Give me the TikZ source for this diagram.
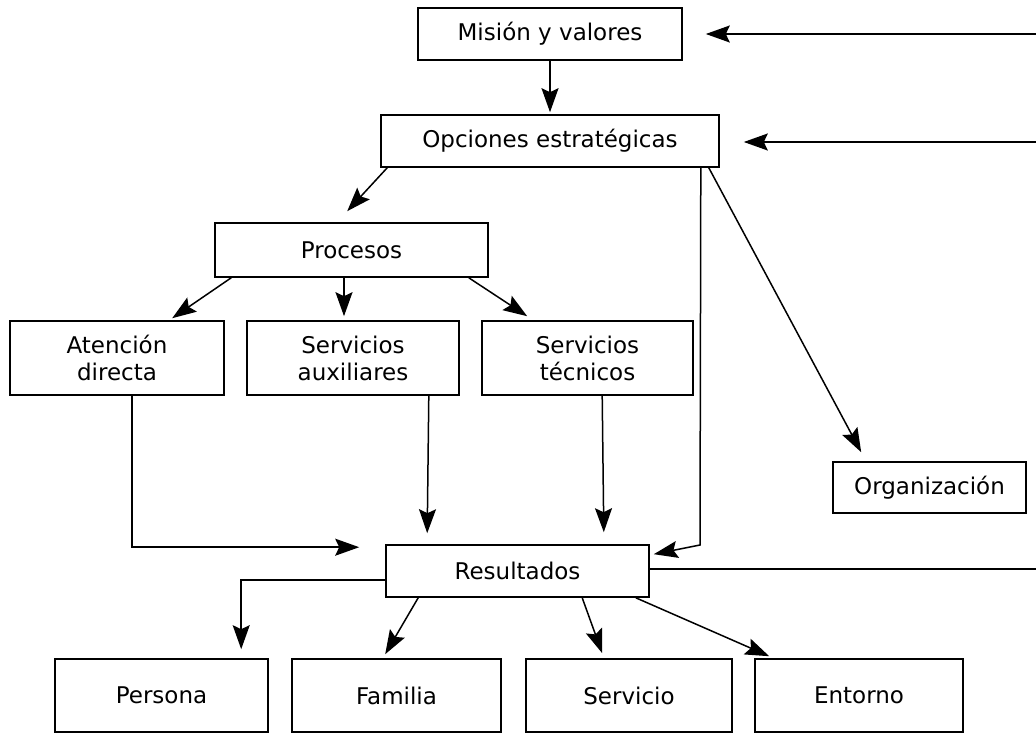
\documentclass[tikz,border=0pt]{standalone}
\usepackage{fontspec}
\setmainfont{DejaVu Sans}
\usetikzlibrary{arrows.meta,calc}
\begin{document}
\begin{tikzpicture}[x=1pt,y=-1pt,
  box/.style={draw, line width=1.6pt, rectangle, inner sep=0pt, align=center, font=\fontsize{23}{27}\selectfont},
  arr/.style={line width=1.5pt, -{Stealth[length=24pt,width=17pt,inset=4pt]}},
  ln/.style={line width=1.5pt}]
\useasboundingbox (0,0) rectangle (1036,733);
% nodes
\node[box, minimum width=264, minimum height=52] (mis) at (550,34) {Misión y valores};
\node[box, minimum width=338, minimum height=52] (opc) at (550,141) {Opciones estratégicas};
\node[box, minimum width=273, minimum height=54] (pro) at (351.5,250) {Procesos};
\node[box, minimum width=214, minimum height=74] (ate) at (117,358) {Atención\\directa};
\node[box, minimum width=212, minimum height=74] (aux) at (353,358) {Servicios\\auxiliares};
\node[box, minimum width=211, minimum height=74] (tec) at (587.5,358) {Servicios\\técnicos};
\node[box, minimum width=193, minimum height=51] (org) at (929.5,487.5) {Organización};
\node[box, minimum width=263, minimum height=52] (res) at (517.5,571) {Resultados};
\node[box, minimum width=213, minimum height=73] (per) at (161.5,695.5) {Persona};
\node[box, minimum width=209, minimum height=73] (fam) at (396.5,695.5) {Familia};
\node[box, minimum width=206, minimum height=73] (ser) at (629,695.5) {Servicio};
\node[box, minimum width=208, minimum height=73] (ent) at (859,695.5) {Entorno};
% free ends
\coordinate (inM) at (1036,34);
\coordinate (inO) at (1036,142);
\coordinate (outR) at (1036,569);
\coordinate (bend) at (700,545);
% connectors
\draw[arr] (inM) -- ([xshift=23]mis.east);
\draw[arr] (inO) -- ([xshift=24,yshift=-1]opc.east);
\draw[arr] (mis.south) -- ([yshift=2]opc.north);
\draw[arr] ([xshift=7]opc.south west) -- ([xshift=133,yshift=11]pro.north west);
\draw[arr] ([xshift=17]pro.south west) -- ([xshift=163,yshift=2]ate.north west);
\draw[arr] ([xshift=-7.5]pro.south) -- ([xshift=-9,yshift=4]aux.north);
\draw[arr] ([xshift=-20]pro.south east) -- ([xshift=46,yshift=4]tec.north west);
\draw[arr] ([xshift=123]ate.south west) |- ([xshift=-26,yshift=-3]res.north west);
\draw[arr] ([xshift=-31]aux.south east) -- ([xshift=42,yshift=11]res.north west);
\draw[arr] ([xshift=121]tec.south west) -- ([xshift=-46,yshift=12]res.north east);
\draw[arr] ([xshift=-19]opc.south east) -- (bend) -- ([xshift=4,yshift=-10]res.north east);
\draw[arr] ([xshift=-11]opc.south east) -- ([xshift=29,yshift=9]org.north west);
\draw[ln] ([yshift=2]res.east) -- (outR);
\draw[arr] ([yshift=-9]res.west) -| ([xshift=187,yshift=9]per.north west);
\draw[arr] ([xshift=33]res.south west) -- ([xshift=94,yshift=4]fam.north west);
\draw[arr] ([xshift=197]res.south west) -- ([xshift=77,yshift=5]ser.north west);
\draw[arr] ([xshift=-14]res.south east) -- ([xshift=15,yshift=2]ent.north west);
\end{tikzpicture}
\end{document}
